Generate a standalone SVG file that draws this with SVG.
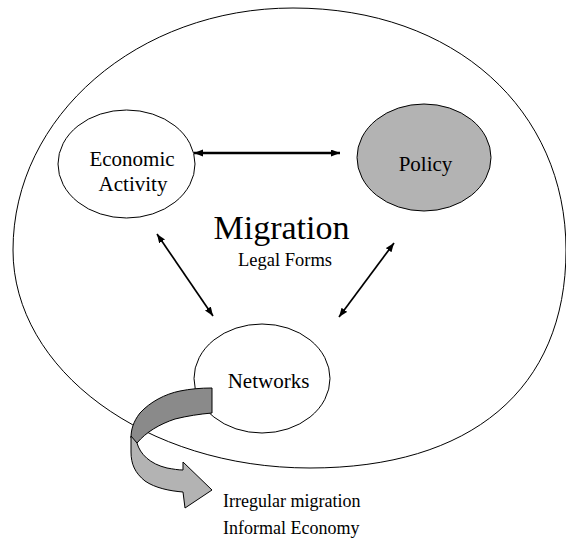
<svg xmlns="http://www.w3.org/2000/svg" width="566" height="550" viewBox="0 0 566 550">
  <style>
    .shape { stroke: #000; stroke-width: 1; }
    .lbl { font-family: "Liberation Serif", "Times New Roman", serif; fill: #000; text-anchor: middle; }
    .node { font-size: 21px; }
    .plain { font-family: "Liberation Serif", "Times New Roman", serif; fill: #000; font-size: 18px; }
    .conn { stroke: #000; fill: none; marker-start: url(#ah); marker-end: url(#ah); }
  </style>
  <defs>
    <marker id="ah" markerUnits="userSpaceOnUse" markerWidth="10" markerHeight="8" refX="9" refY="3.5" orient="auto-start-reverse">
      <path d="M0,0 L9,3.5 L0,7 Z" fill="#000"/>
    </marker>
  </defs>
  <rect width="566" height="550" fill="#fff"/>

  <g id="node-migration">
    <path class="shape" fill="#fff" d="M293,8 C455,8 566,110 566,250 C566,390 470,468 310,468 C146,468 13,370 13,250 C13,116 138,8 293,8 Z"/>
    <text class="lbl" x="281.5" y="239" font-size="34">Migration</text>
    <text class="lbl" x="285" y="266" font-size="18.5">Legal Forms</text>
  </g>

  <g id="node-economic">
    <ellipse class="shape" fill="#fff" cx="126.5" cy="164" rx="68.5" ry="54"/>
    <text class="lbl node" x="132" y="166">Economic</text>
    <text class="lbl node" x="133" y="191">Activity</text>
  </g>

  <g id="node-policy">
    <ellipse class="shape" fill="#b3b3b3" cx="424" cy="157.5" rx="67" ry="53.5"/>
    <text class="lbl node" x="425.5" y="171">Policy</text>
  </g>

  <g id="node-networks">
    <ellipse class="shape" fill="#fff" cx="262" cy="378.5" rx="68" ry="54.5"/>
    <text class="lbl node" x="268.5" y="388">Networks</text>
  </g>

  <g id="connectors">
    <line class="conn" x1="194" y1="153" x2="340" y2="153" stroke-width="2.4"/>
    <line class="conn" x1="157" y1="234" x2="213" y2="316" stroke-width="1.7"/>
    <line class="conn" x1="394" y1="243" x2="339" y2="317" stroke-width="1.7"/>
  </g>

  <g id="curved-arrow">
    <path class="shape" fill="#8a8a8a" d="M212,388 L212,413 C200,414 187,416 175,419 C160,424 146,432 137,443 L131,438 C131,430 133,422 140,413 C150,402 165,394 180,391 C190,389 200,388 212,388 Z"/>
    <path class="shape" fill="#b3b3b3" d="M131,436 L137,443 C140,454 150,464 167,468 C173,469 178,470 183,470 L183,462 L212,490 L185,508 L183,492 C170,491 155,488 145,481 C135,473 131,464 131,452 Z"/>
  </g>

  <g id="outcomes">
    <text class="plain" x="223" y="507">Irregular migration</text>
    <text class="plain" x="223" y="534">Informal Economy</text>
  </g>
</svg>
